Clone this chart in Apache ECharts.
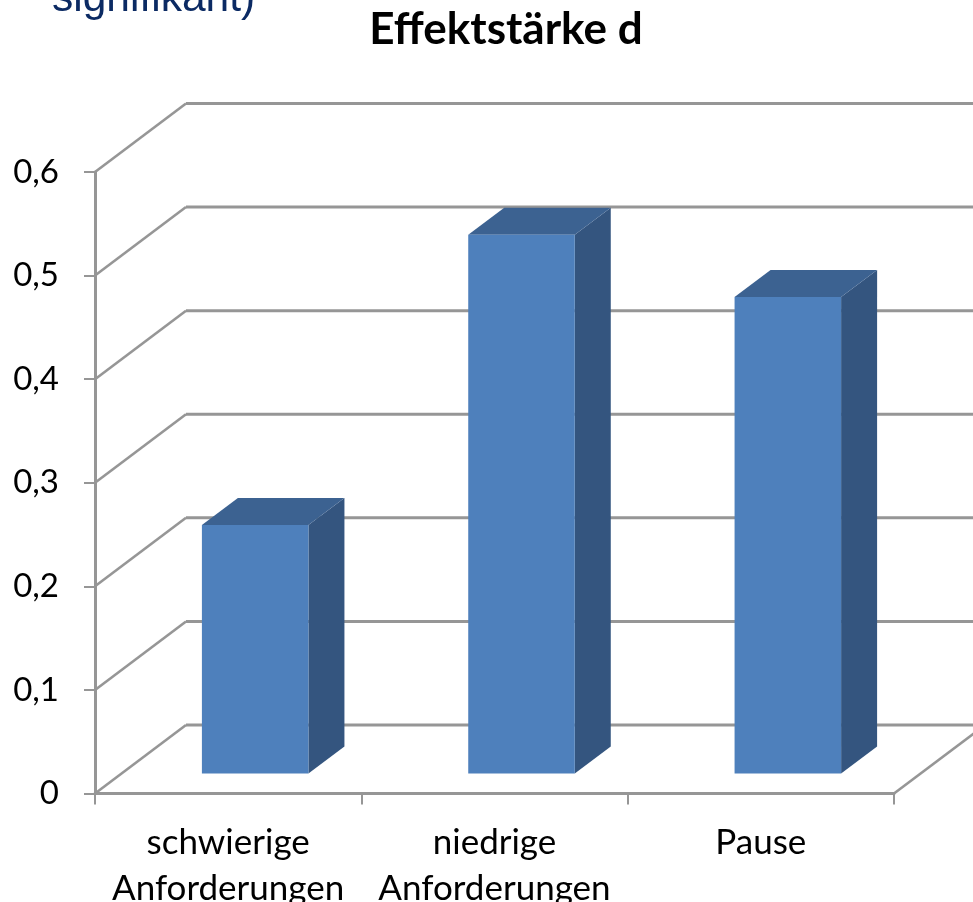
<!DOCTYPE html>
<html>
<head>
<meta charset="utf-8">
<style>html,body{margin:0;padding:0;background:#fff}#chart{width:973px;height:902px}</style>
<script src="https://cdn.jsdelivr.net/npm/echarts@6/dist/echarts.min.js"></script>
</head>
<body>
<div id="chart"></div>
<script>
// Effect sizes per condition
const categories = ['schwierige\nAnforderungen', 'niedrige\nAnforderungen', 'Pause'];
const effectSizes = [0.24, 0.52, 0.46];
const gridTicks = [0, 0.1, 0.2, 0.3, 0.4, 0.5, 0.6];

const titleText = 'Effektstärke d';
const clippedCaption = 'signifikant)';

// Oblique projection used for the pseudo-3D look
const wallDepth = [91, -68.5];
const barInset = [27, -20];
const barDepth = [36, -27];
const wallColor = '#969696';

const chart = echarts.init(document.getElementById('chart'));

function renderWall(params, api) {
  const rect = params.coordSys;
  const y = api.coord([0, api.value(0)])[1];
  const x0 = rect.x;
  const x1 = rect.x + rect.width;
  const bx = x0 + wallDepth[0];
  const by = y + wallDepth[1];
  const children = [
    { type: 'line', shape: { x1: x0, y1: y, x2: bx, y2: by }, style: { stroke: wallColor, lineWidth: 2.6 } },
    { type: 'line', shape: { x1: bx, y1: by, x2: x1 + wallDepth[0], y2: by }, style: { stroke: wallColor, lineWidth: 3 } }
  ];
  if (api.value(0) === 0) {
    children.push({ type: 'line', shape: { x1: x1, y1: y, x2: x1 + wallDepth[0], y2: by },
      style: { stroke: wallColor, lineWidth: 2.6 } });
  }
  return { type: 'group', children };
}

function renderBar(params, api) {
  const top = api.coord([api.value(0), api.value(1)]);
  const base = api.coord([api.value(0), 0]);
  const w = api.size([1, 0])[0] * 0.4;
  const l = top[0] - w / 2 + barInset[0];
  const r = l + w;
  const t = top[1] + barInset[1];
  const b = base[1] + barInset[1];
  const dx = barDepth[0];
  const dy = barDepth[1];
  return {
    type: 'group',
    children: [
      { type: 'polygon', shape: { points: [[r, t], [r + dx, t + dy], [r + dx, b + dy], [r, b]] }, style: { fill: '#34557f' } },
      { type: 'polygon', shape: { points: [[l, t], [l + dx, t + dy], [r + dx, t + dy], [r, t]] }, style: { fill: '#3c6291' } },
      { type: 'rect', shape: { x: l, y: t, width: w, height: b - t }, style: { fill: '#4e80bc' } }
    ]
  };
}

chart.setOption({
  animation: false,
  backgroundColor: '#ffffff',
  textStyle: { fontFamily: 'Lato' },
  title: {
    text: titleText,
    left: 501,
    top: 3,
    textAlign: 'center',
    textStyle: { fontFamily: 'Lato', fontWeight: 'bold', fontSize: 44, color: '#000' }
  },
  graphic: [
    { type: 'text', left: 52, top: -22,
      style: { text: clippedCaption, fontFamily: 'Liberation Sans', fontSize: 42.5, fill: '#0b2a63' } }
  ],
  grid: { left: 95, right: 79, top: 172, bottom: 108.5, outerBoundsMode: 'none' },
  xAxis: {
    type: 'category',
    data: categories,
    boundaryGap: true,
    axisLine: { lineStyle: { color: wallColor, width: 3 } },
    axisTick: { show: true, length: 11, alignWithLabel: false, lineStyle: { color: wallColor, width: 2 } },
    axisLabel: { color: '#000', fontFamily: 'Lato', fontSize: 35, lineHeight: 46, margin: 26, interval: 0 },
    splitLine: { show: false }
  },
  yAxis: {
    type: 'value',
    min: 0,
    max: 0.6,
    interval: 0.1,
    axisLine: { show: true, lineStyle: { color: wallColor, width: 3 } },
    axisTick: { show: true, length: 11, lineStyle: { color: wallColor, width: 2 } },
    axisLabel: { color: '#000', fontFamily: 'Lato', fontSize: 33, margin: 36, padding: [6, 0, 0, 0],
      formatter: v => String(v).replace('.', ',') },
    splitLine: { show: false }
  },
  series: [
    { type: 'custom', z: 1, renderItem: renderWall, data: gridTicks.map(v => [v]),
      encode: { y: 0 }, silent: true },
    { type: 'custom', z: 2, renderItem: renderBar, data: effectSizes.map((v, i) => [i, v]),
      encode: { x: 0, y: 1 }, silent: true }
  ]
});
</script>
</body>
</html>
